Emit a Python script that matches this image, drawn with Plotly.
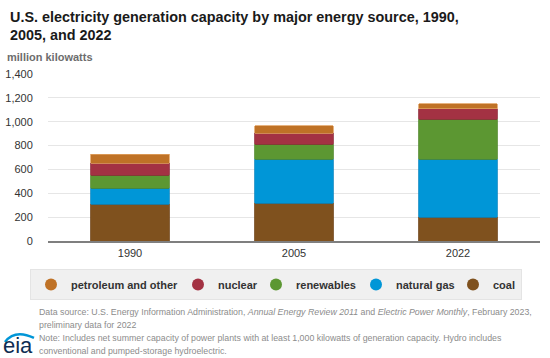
import plotly.graph_objects as go

years = ["1990", "2005", "2022"]
coal = [310, 316, 199]
natural_gas = [134, 371, 488]
renewables = [107, 126, 333]
nuclear = [100, 92, 89]
petroleum_other = [76, 62, 42]

series = [
    ("coal", coal, "#7F511E", "#6a3d10"),
    ("natural gas", natural_gas, "#0096D7", "#0a86c0"),
    ("renewables", renewables, "#5C9732", "#4f8729"),
    ("nuclear", nuclear, "#A33243", "#8f2838"),
    ("petroleum and other", petroleum_other, "#BF7226", "#e0a060"),
]
legend_order = ["petroleum and other", "nuclear", "renewables", "natural gas", "coal"]
legend_widths = [102, 33, 55, 52, 0]

FONT = "Liberation Sans, Arial, sans-serif"
W, H = 550, 358
ML, MR, MT, MB = 48, 10, 74, 117
PW, PH = W - ML - MR, H - MT - MB


def px(x):
    return (x - ML) / PW


def py(y):
    return (H - MB - y) / PH


fig = go.Figure()
for name, vals, col, lcol in series:
    fig.add_trace(go.Bar(
        x=years, y=vals, name=name, showlegend=False,
        marker=dict(color=col, line=dict(color=lcol, width=0.8)),
        hovertemplate="%{x}: %{y}<extra>" + name + "</extra>",
    ))

colors = {n: c for n, _, c, _ in series}
for name, lw in zip(legend_order, legend_widths):
    kw = dict(legendwidth=lw) if lw else {}
    fig.add_trace(go.Scatter(
        x=[None], y=[None], mode="markers", name=name,
        marker=dict(symbol="circle", size=12, color=colors[name]),
        **kw,
    ))

fig.update_layout(
    width=W, height=H,
    margin=dict(l=ML, r=MR, t=MT, b=MB, pad=0),
    paper_bgcolor="white", plot_bgcolor="white",
    barmode="stack", bargap=0.524,
    font=dict(family=FONT, size=11, color="#333333"),
    showlegend=True,
    legend=dict(
        orientation="h", x=px(30), xanchor="left", y=py(269), yanchor="top",
        bgcolor="#f0f0f0", bordercolor="#e4e4e4", borderwidth=1,
        font=dict(family=FONT, size=11, color="#333333", weight="bold"),
        itemsizing="trace", traceorder="normal",
    ),
    xaxis=dict(
        type="category", showgrid=False, showline=True, linecolor="#7f7f7f", linewidth=2,
        ticks="outside", ticklen=1, tickcolor="rgba(0,0,0,0)", automargin=False,
        tickfont=dict(size=11, color="#333333"), fixedrange=True,
    ),
    yaxis=dict(
        range=[0, 1400], dtick=200, tickformat=",", showgrid=True, gridcolor="#e6e6e6",
        gridwidth=1, zeroline=False, showline=False, automargin=False,
        ticks="outside", ticklen=12, tickcolor="rgba(0,0,0,0)",
        tickfont=dict(size=11, color="#333333"), fixedrange=True,
    ),
)

ann = []


def text(x, y, s, size, color, weight="normal", yanchor="middle"):
    ann.append(dict(
        xref="paper", yref="paper", x=px(x), y=py(y), text=s, showarrow=False,
        xanchor="left", yanchor=yanchor, align="left",
        font=dict(family=FONT, size=size, color=color, weight=weight),
    ))


text(8, 17, "U.S. electricity generation capacity by major energy source, 1990,", 14.4, "#1a1a1a", "bold")
text(8, 35, "2005, and 2022", 14.4, "#1a1a1a", "bold")
text(5, 57, "million kilowatts", 11, "#6d6d6d", "bold")

fc = "#8c8c8c"
fs = 8.8
text(37, 312, "Data source: U.S. Energy Information Administration, <i>Annual Energy Review 2011</i> and <i>Electric Power Monthly</i>, February 2023,", fs, fc)
text(37, 325, "preliminary data for 2022", fs, fc)
text(37, 338, "Note: Includes net summer capacity of power plants with at least 1,000 kilowatts of generation capacity. Hydro includes", fs, fc)
text(37, 351, "conventional and pumped-storage hydroelectric.", fs, fc)

# eia logo
text(1, 360, "eia", 22, "#0f2d52", "normal", yanchor="bottom")
fig.update_layout(annotations=ann)

pts = [(5, 342), (15, 329), (34, 338)]
path = "M {:.4f},{:.4f} Q {:.4f},{:.4f} {:.4f},{:.4f}".format(
    px(pts[0][0]), py(pts[0][1]), px(pts[1][0]), py(pts[1][1]), px(pts[2][0]), py(pts[2][1]))
fig.add_shape(type="path", xref="paper", yref="paper", path=path,
              line=dict(color="#0096D7", width=2.5))

fig.write_html(
    "out.html",
    config={"displayModeBar": False},
    post_script="document.body.style.margin='0';document.body.style.overflow='hidden';",
)
